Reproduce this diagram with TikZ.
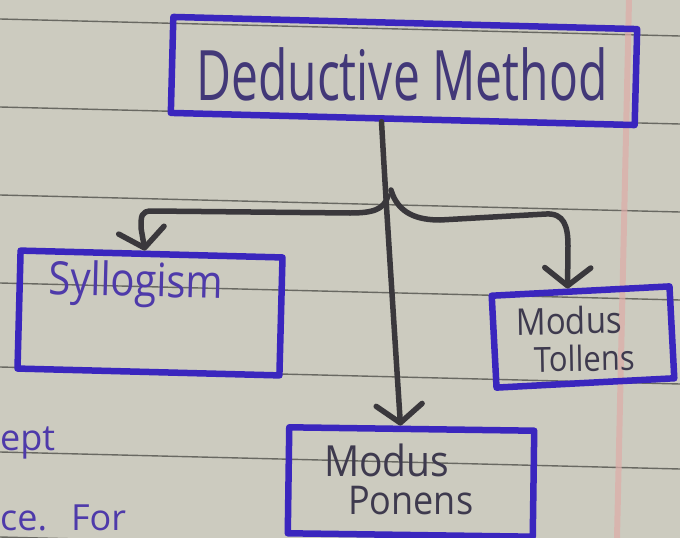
\documentclass[tikz,border=0pt]{standalone}
\usepackage{fontspec}
\setmainfont{Open Sans}
\usetikzlibrary{arrows.meta,calc}
\definecolor{paper}{RGB}{204,203,191}
\definecolor{rulecol}{RGB}{105,105,98}
\definecolor{margincol}{RGB}{222,172,168}
\definecolor{boxblue}{RGB}{58,38,190}
\definecolor{inkA}{RGB}{66,56,120}
\definecolor{inkB}{RGB}{62,58,78}
\definecolor{pencil}{RGB}{58,56,60}
\definecolor{penblue}{RGB}{78,58,170}
\tikzset{
  inkbox/.style={draw=boxblue, line width=6.5pt, line join=round, inner sep=0pt, shape=rectangle},
  hand/.style={inner sep=0pt, anchor=base west},
  conn/.style={draw=pencil, line width=5.5pt, line cap=round, line join=round},
  barbtip/.style={-{Straight Barb[length=18pt,width=46pt,round]}},
  ruled/.style={draw=rulecol, line width=1.4pt}
}
\begin{document}
\begin{tikzpicture}[x=1pt,y=-1pt]
\useasboundingbox (0,0) rectangle (680,538);
\clip (0,0) rectangle (680,538);
\fill[paper] (0,0) rectangle (680,538);
% ruled lines
\foreach \yy in {19,107,195,283,367,452,537}
  \draw[ruled] (0,\yy) -- (680,\yy+17);
% margin line
\draw[margincol, line width=6pt, opacity=0.7] (629,0) -- (617,538);

% boxes
\node[inkbox, minimum width=464pt, minimum height=96pt, rotate=-1.5] (dm) at (404,71) {};
\node[inkbox, minimum width=262pt, minimum height=118pt, rotate=-1.5] (syl) at (150,313) {};
\node[inkbox, minimum width=178pt, minimum height=92pt, rotate=3] (mt) at (583,337) {};
\node[inkbox, minimum width=245pt, minimum height=106pt, rotate=-0.8] (mp) at (411,482) {};

% texts
\node[hand, text=inkA, font=\fontsize{48}{48}\selectfont] (dmt) at (196,100) {\scalebox{1}[1.45]{Deductive Method}};
\node[hand, text=penblue, font=\fontsize{40}{40}\selectfont, rotate=-1.5] (sylt) at (48,294) {\scalebox{1}[1.15]{Syllogism}};
\node[hand, text=inkB, font=\fontsize{33}{33}\selectfont, rotate=1] (mt1) at (516,335) {\scalebox{1}[1.12]{Modus}};
\node[hand, text=inkB, font=\fontsize{31}{31}\selectfont, rotate=1] (mt2) at (534,372) {\scalebox{1}[1.12]{Tollens}};
\node[hand, text=inkB, font=\fontsize{39}{39}\selectfont] (mp1) at (324,476) {\scalebox{1}[1.1]{Modus}};
\node[hand, text=inkB, font=\fontsize{36}{36}\selectfont] (mp2) at (348,514) {\scalebox{1}[1.1]{Ponens}};
\node[hand, text=penblue, font=\fontsize{36}{36}\selectfont] (frag1) at (0,450) {ept};
\node[hand, text=penblue, font=\fontsize{36}{36}\selectfont] (frag2) at (0,530) {ce.\hspace{24pt}For};

% connectors
\coordinate (ds) at ($(dm.south west)!0.455!(dm.south east)$);
\coordinate (mptop) at ($(mp.north west)!0.455!(mp.north east)$);
\coordinate (syltop) at ($(syl.north west)!0.475!(syl.north east)$);
\coordinate (mttop) at ($(mt.north west)!0.43!(mt.north east)$);
\coordinate (jl) at (388,196);
\coordinate (jr) at (391,190);

\draw[conn, barbtip] (ds) .. controls (386,200) .. (mptop);
\draw[conn, barbtip] (jl) .. controls (384,210) and (372,213) .. (350,213)
  -- (152,211) .. controls (141,211) and (141,216) .. (141,228) -- (syltop);
\draw[conn, barbtip] (jr) .. controls (398,214) and (418,220) .. (440,220)
  -- (546,214) .. controls (564,213) and (568,226) .. (568,246) -- (mttop);
\end{tikzpicture}
\end{document}
